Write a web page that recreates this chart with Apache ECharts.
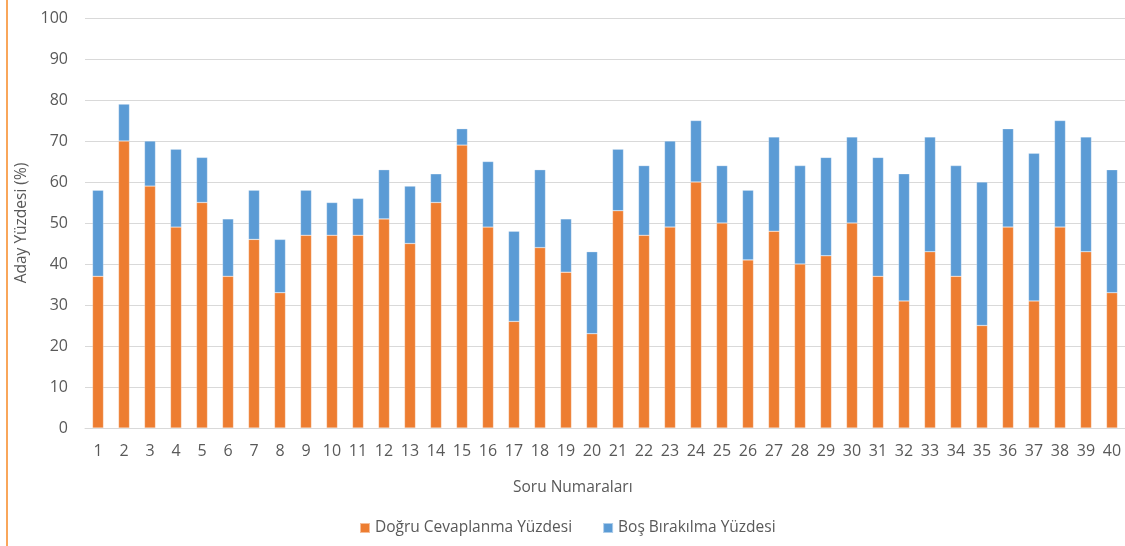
<!DOCTYPE html>
<html>
<head>
<meta charset="utf-8">
<script src="https://cdn.jsdelivr.net/npm/echarts@6/dist/echarts.min.js"></script>
<style>
html,body{margin:0;padding:0;background:#fff;}
#main{width:1125px;height:546px;}
</style>
</head>
<body>
<div id="main"></div>
<script>
const categories = ['1','2','3','4','5','6','7','8','9','10','11','12','13','14','15','16','17','18','19','20','21','22','23','24','25','26','27','28','29','30','31','32','33','34','35','36','37','38','39','40'];
const dogruValues = [37,70,59,49,55,37,46,33,47,47,47,51,45,55,69,49,26,44,38,23,53,47,49,60,50,41,48,40,42,50,37,31,43,37,25,49,31,49,43,33];
const bosValues = [21,9,11,19,11,14,12,13,11,8,9,12,14,7,4,16,22,19,13,20,15,17,21,15,14,17,23,24,24,21,29,31,28,27,35,24,36,26,28,30];
const yTicks = { min: 0, max: 100, interval: 10 };
const seriesNames = ['Doğru Cevaplanma Yüzdesi', 'Boş Bırakılma Yüzdesi'];
const xAxisTitle = 'Soru Numaraları';
const yAxisTitle = 'Aday Yüzdesi (%)';

const FONT = '"Open Sans", "Noto Sans", sans-serif';
const TXT = '#595959';
const chart = echarts.init(document.getElementById('main'), null, {renderer: 'canvas'});
chart.setOption({
  backgroundColor: '#fff',
  animation: false,
  textStyle: { fontFamily: FONT },
  grid: { left: 85, right: 0, top: 18, bottom: 118, containLabel: false },
  legend: {
    left: 354, top: 515,
    itemWidth: 10, itemHeight: 10, itemGap: 30,
    icon: 'rect',
    textStyle: { color: TXT, fontSize: 15.5, fontFamily: FONT },
    data: seriesNames
  },
  xAxis: {
    type: 'category',
    data: categories,
    axisLine: { show: true, lineStyle: { color: '#D9D9D9', width: 1 } },
    axisTick: { show: false },
    axisLabel: { color: TXT, fontSize: 16, margin: 15, interval: 0, fontFamily: FONT }
  },
  yAxis: {
    type: 'value',
    min: yTicks.min, max: yTicks.max, interval: yTicks.interval,
    name: yAxisTitle,
    nameLocation: 'middle',
    nameGap: 48,
    nameTextStyle: { color: TXT, fontSize: 15.5, fontFamily: FONT },
    axisLine: { show: false },
    axisTick: { show: false },
    axisLabel: { color: TXT, fontSize: 16, margin: 17, fontFamily: FONT },
    splitLine: { lineStyle: { color: '#D9D9D9', width: 1 } }
  },
  graphic: [
    { type: 'line', shape: { x1: 7, y1: 0, x2: 7, y2: 546 }, style: { stroke: '#F9A65A', lineWidth: 2 }, silent: true },
    { type: 'text', left: 579 - 66, top: 480, style: { text: xAxisTitle, fill: TXT, font: '15.5px ' + FONT } }
  ],
  series: [
    {
      name: seriesNames[0], type: 'bar', stack: 'total', data: dogruValues,
      barWidth: 11,
      itemStyle: { color: '#ED7D31', borderColor: 'rgba(255,255,255,0.5)', borderWidth: 0.5 }
    },
    {
      name: seriesNames[1], type: 'bar', stack: 'total', data: bosValues,
      barWidth: 11,
      itemStyle: { color: '#5B9BD5', borderColor: 'rgba(255,255,255,0.5)', borderWidth: 0.5 }
    }
  ]
});
</script>
</body>
</html>
